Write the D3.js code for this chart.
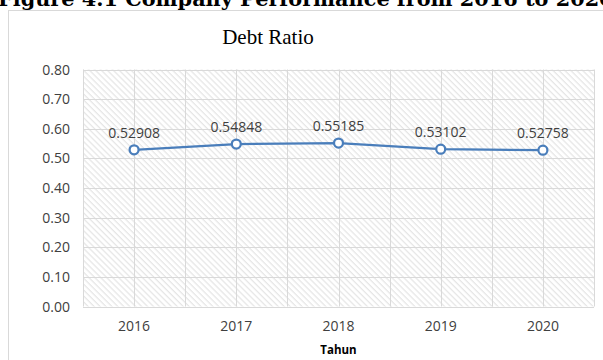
<!DOCTYPE html>
<html>
<head>
<meta charset="utf-8">
<script src="https://cdn.jsdelivr.net/npm/d3@7"></script>
<style>
  body { margin: 0; background: #fff; }
  svg { display: block; }
</style>
</head>
<body>
<svg width="603" height="360"></svg>
<script>
// chart data
var years = ["2016", "2017", "2018", "2019", "2020"];
var debtRatio = [0.52908, 0.54848, 0.55185, 0.53102, 0.52758];
var yTicks = [0, 0.1, 0.2, 0.3, 0.4, 0.5, 0.6, 0.7, 0.8];

var svg = d3.select("svg"),
    width = +svg.attr("width"),
    height = +svg.attr("height");

var margin = {left: 83, right: 9, top: 69.5, bottom: 53.5};
var x = d3.scaleBand().domain(years).range([margin.left, width - margin.right]);
var y = d3.scaleLinear().domain([0, 0.8]).range([height - margin.bottom, margin.top]);

// hatch fill for plot area
var defs = svg.append("defs");
defs.append("pattern")
    .attr("id", "hatch")
    .attr("patternUnits", "userSpaceOnUse")
    .attr("width", 4.2).attr("height", 4.2)
    .attr("patternTransform", "rotate(-45)")
  .append("line")
    .attr("x1", 1).attr("y1", 0).attr("x2", 1).attr("y2", 4.2)
    .attr("stroke", "#e2e2e2").attr("stroke-width", 1.1);

// caption of the figure (cut by the page top, like the reference)
svg.append("text")
    .attr("x", -2).attr("y", 6)
    .attr("font-family", "DejaVu Serif")
    .attr("font-weight", "bold")
    .attr("font-size", 20.8)
    .attr("fill", "#000")
    .text("Figure 4.1 Company Performance from 2016 to 2020");

// chart frame
svg.append("rect")
    .attr("x", 8.5).attr("y", 10.5)
    .attr("width", 700).attr("height", 400)
    .attr("fill", "#fff")
    .attr("stroke", "#d9d9d9");

svg.append("rect")
    .attr("x", margin.left).attr("y", margin.top)
    .attr("width", width - margin.right - margin.left)
    .attr("height", height - margin.bottom - margin.top)
    .attr("fill", "url(#hatch)");

// gridlines
var grid = svg.append("g").attr("stroke", "#d9d9d9").attr("stroke-width", 1);
grid.selectAll(".hg").data(yTicks).enter().append("line")
    .attr("x1", margin.left).attr("x2", width - margin.right)
    .attr("y1", function(d) { return Math.round(y(d)) + 0.5; })
    .attr("y2", function(d) { return Math.round(y(d)) + 0.5; });

var vLines = [];
years.forEach(function(d) {
  vLines.push(x(d));
  vLines.push(x(d) + x.bandwidth() / 2);
});
vLines.push(x(years[years.length - 1]) + x.bandwidth());
grid.selectAll(".vg").data(vLines).enter().append("line")
    .attr("y1", margin.top).attr("y2", y(0))
    .attr("x1", function(d) { return Math.round(d) + 0.5; })
    .attr("x2", function(d) { return Math.round(d) + 0.5; });

// y axis labels
svg.append("g").selectAll("text").data(yTicks).enter().append("text")
    .attr("x", 70)
    .attr("y", function(d) { return y(d) + 5; })
    .attr("text-anchor", "end")
    .attr("font-family", "Open Sans")
    .attr("font-size", 14)
    .attr("fill", "#404040")
    .text(function(d) { return d.toFixed(2); });

// x axis labels
svg.append("g").selectAll("text").data(years).enter().append("text")
    .attr("x", function(d) { return x(d) + x.bandwidth() / 2; })
    .attr("y", 331)
    .attr("text-anchor", "middle")
    .attr("font-family", "Open Sans")
    .attr("font-size", 14)
    .attr("fill", "#404040")
    .text(function(d) { return d; });

// axis title
svg.append("text")
    .attr("x", (margin.left + width - margin.right) / 2)
    .attr("y", 354)
    .attr("text-anchor", "middle")
    .attr("font-family", "Open Sans")
    .attr("font-weight", "bold")
    .attr("font-size", 11.5)
    .attr("fill", "#000")
    .text("Tahun");

// chart title
svg.append("text")
    .attr("x", 268)
    .attr("y", 44)
    .attr("text-anchor", "middle")
    .attr("font-family", "Liberation Serif")
    .attr("font-size", 21)
    .attr("fill", "#000")
    .text("Debt Ratio");

// the line
var line = d3.line()
    .x(function(d, i) { return x(years[i]) + x.bandwidth() / 2; })
    .y(function(d) { return y(d); });

svg.append("path")
    .datum(debtRatio)
    .attr("d", line)
    .attr("fill", "none")
    .attr("stroke", "#4a7ebb")
    .attr("stroke-width", 2.25);

svg.append("g").selectAll("circle").data(debtRatio).enter().append("circle")
    .attr("cx", function(d, i) { return x(years[i]) + x.bandwidth() / 2; })
    .attr("cy", function(d) { return y(d); })
    .attr("r", 4.5)
    .attr("fill", "#fff")
    .attr("stroke", "#4a7ebb")
    .attr("stroke-width", 2.25);

// data labels
svg.append("g").selectAll("text").data(debtRatio).enter().append("text")
    .attr("x", function(d, i) { return x(years[i]) + x.bandwidth() / 2; })
    .attr("y", function(d) { return y(d) - 12; })
    .attr("text-anchor", "middle")
    .attr("font-family", "Open Sans")
    .attr("font-size", 14)
    .attr("fill", "#404040")
    .text(function(d) { return d.toFixed(5); });
</script>
</body>
</html>
